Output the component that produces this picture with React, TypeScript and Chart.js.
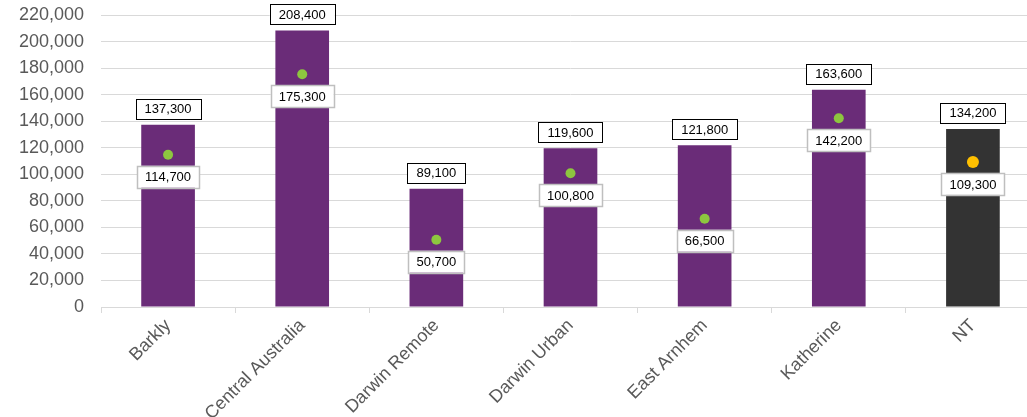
import React, { useEffect, useRef } from "react";
import { Chart, registerables } from "chart.js";

Chart.register(...registerables);

const categories = ["Barkly", "Central Australia", "Darwin Remote", "Darwin Urban", "East Arnhem", "Katherine", "NT"];
const barValues = [137300, 208400, 89100, 119600, 121800, 163600, 134200];
const dotValues = [114700, 175300, 50700, 100800, 66500, 142200, 109300];
const barColors = ["#6A2C78", "#6A2C78", "#6A2C78", "#6A2C78", "#6A2C78", "#6A2C78", "#333333"];
const dotColors = ["#8DC63F", "#8DC63F", "#8DC63F", "#8DC63F", "#8DC63F", "#8DC63F", "#FFC000"];
const dotRadii = [5, 5, 5, 5, 5, 5, 6];

const fmt = (v: number) => v.toLocaleString("en-US");

const labelPlugin = {
  id: "boxLabels",
  afterDatasetsDraw(chart: any) {
    const ctx = chart.ctx;
    ctx.save();
    ctx.font = "13px 'Liberation Sans', Arial, sans-serif";
    ctx.textAlign = "center";
    ctx.textBaseline = "middle";
    const barMeta = chart.getDatasetMeta(0);
    barMeta.data.forEach((el: any, i: number) => {
      const t = fmt(barValues[i]);
      const w = ctx.measureText(t).width + 18;
      const h = 20;
      const x = el.x - w / 2;
      const y = el.y - 6 - h;
      ctx.fillStyle = "#ffffff";
      ctx.fillRect(x, y, w, h);
      ctx.strokeStyle = "#000000";
      ctx.lineWidth = 1;
      ctx.strokeRect(Math.round(x) + 0.5, Math.round(y) + 0.5, Math.round(w), h);
      ctx.fillStyle = "#000000";
      ctx.fillText(t, el.x, y + h / 2 + 1);
    });
    const dotMeta = chart.getDatasetMeta(1);
    dotMeta.data.forEach((el: any, i: number) => {
      const t = fmt(dotValues[i]);
      const w = ctx.measureText(t).width + 16;
      const h = 22;
      const x = el.x - w / 2;
      const y = el.y + 11;
      ctx.fillStyle = "#ffffff";
      ctx.fillRect(x, y, w, h);
      ctx.strokeStyle = "#BFBFBF";
      ctx.lineWidth = 1.5;
      ctx.strokeRect(Math.round(x) + 0.5, Math.round(y) + 0.5, Math.round(w), h);
      ctx.fillStyle = "#000000";
      ctx.fillText(t, el.x, y + h / 2 + 1);
    });
    ctx.restore();
  },
};

export default function App() {
  const ref = useRef<HTMLCanvasElement>(null);
  useEffect(() => {
    if (!ref.current) return;
    const chart = new Chart(ref.current, {
      type: "bar",
      data: {
        labels: categories,
        datasets: [
          {
            type: "bar",
            data: barValues,
            backgroundColor: barColors,
            barPercentage: 0.4,
            categoryPercentage: 1,
            order: 2,
          },
          {
            type: "line",
            data: dotValues,
            showLine: false,
            pointRadius: dotRadii,
            pointBackgroundColor: dotColors,
            pointBorderColor: dotColors,
            pointBorderWidth: 0,
            order: 1,
          } as any,
        ],
      },
      options: {
        responsive: false,
        animation: false,
        layout: { padding: { top: 15, right: 0, left: 0, bottom: 0 } },
        plugins: { legend: { display: false }, tooltip: { enabled: false } },
        scales: {
          x: {
            grid: { offset: true, drawOnChartArea: false, drawTicks: true, tickLength: 6, color: "#D9D9D9" },
            border: { display: true, color: "#D9D9D9" },
            ticks: {
              minRotation: 45,
              maxRotation: 45,
              color: "#595959",
              padding: 2,
              font: { family: "'Liberation Sans', Arial, sans-serif", size: 18 },
            },
            afterFit: (s: any) => { s.height = 110; s.paddingLeft = 0; s.paddingRight = 0; },
          },
          y: {
            min: 0,
            max: 220000,
            grid: { color: "#D9D9D9", drawTicks: false },
            border: { display: false },
            ticks: {
              stepSize: 20000,
              color: "#595959",
              padding: 17,
              font: { family: "'Liberation Sans', Arial, sans-serif", size: 18 },
              callback: (v: any) => fmt(Number(v)),
            },
            afterFit: (s: any) => { s.width = 101; s.paddingTop = 0; s.paddingBottom = 0; },
          },
        },
      },
      plugins: [labelPlugin],
    });
    return () => chart.destroy();
  }, []);
  return (
    <div style={{ position: "fixed", left: 0, top: 0, width: 1027, height: 417, overflow: "hidden", background: "#fff" }}>
      <canvas ref={ref} width={1046} height={417} style={{ display: "block" }} />
    </div>
  );
}
